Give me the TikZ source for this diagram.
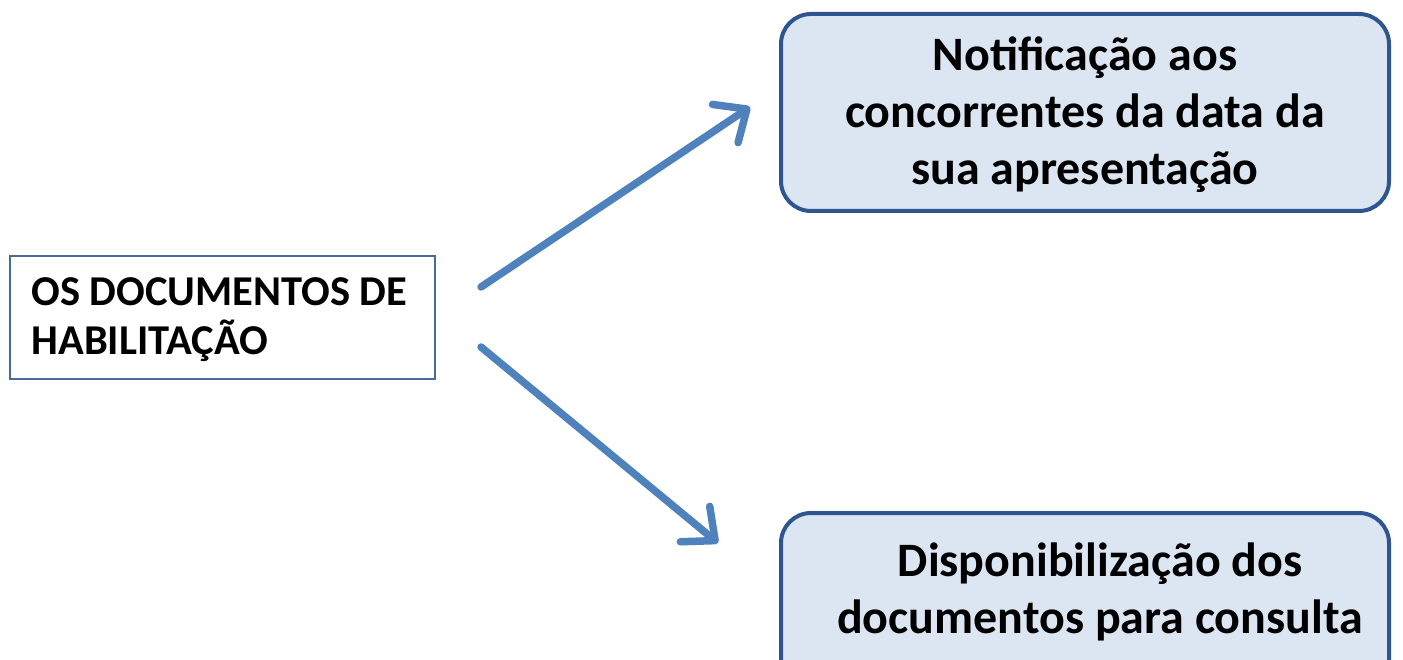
\documentclass[tikz,border=0pt]{standalone}
\usepackage{fontspec}
\setmainfont{Carlito}
\usetikzlibrary{arrows.meta}
\definecolor{boxline}{HTML}{2F5590}
\definecolor{boxfill}{HTML}{DCE6F2}
\definecolor{thinline}{HTML}{4A6A9E}
\definecolor{arrowblue}{HTML}{4F81BD}
\tikzset{
  srcbox/.style={draw=thinline, line width=1.5pt, fill=white, inner sep=0pt},
  destbox/.style={draw=boxline, line width=4pt, fill=boxfill, rounded corners=30pt, inner sep=0pt},
  flow/.style={draw=arrowblue, line width=7.5pt, line cap=round,
    -{Straight Barb[round,length=26pt,width=46pt]}},
  bigtext/.style={font=\fontsize{48}{57}\selectfont\bfseries, align=center},
  midtext/.style={font=\fontsize{42.5}{49}\selectfont\bfseries, align=left}
}
\begin{document}
\begin{tikzpicture}[x=1pt,y=-1pt]
  \useasboundingbox (0,0) rectangle (1403,660);
  % left source box
  \path[srcbox] (10,256) rectangle (435,379);
  \node[midtext, anchor=west] (src) at (28,320) {OS DOCUMENTOS DE\\HABILITAÇÃO};
  % top target box
  \path[destbox] (781,14) rectangle (1389,211);
  \node[bigtext] (top) at (1085,115) {Notificação aos\\concorrentes da data da\\sua apresentação};
  % bottom target box, running past the lower edge
  \begin{scope}
    \clip (0,0) rectangle (1403,660);
    \path[destbox] (781,513) rectangle (1389,720);
  \end{scope}
  \node[bigtext] (bot) at (1100,592) {Disponibilização dos\\documentos para consulta};
  % arrows
  \coordinate (a1s) at (481,287);
  \coordinate (a1e) at (750,107);
  \coordinate (a2s) at (481,347);
  \coordinate (a2e) at (718,543);
  \draw[flow] (a1s) -- (a1e);
  \draw[flow] (a2s) -- (a2e);
\end{tikzpicture}
\end{document}
